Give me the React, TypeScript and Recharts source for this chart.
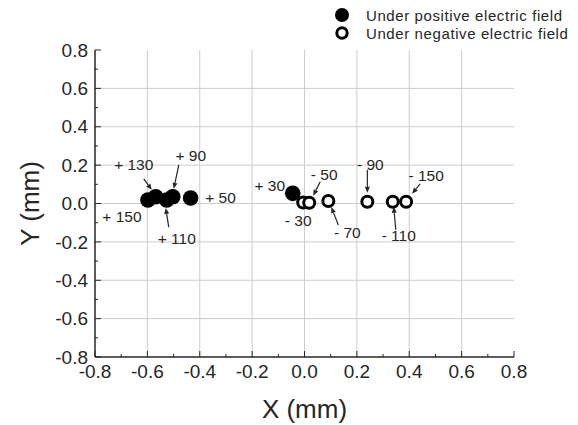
import { ScatterChart, Scatter, XAxis, YAxis, ReferenceLine, Legend, Label } from 'recharts';

const FONT = '"Liberation Sans", Arial, sans-serif';
const INK = '#262626';

// points (mm)
const positiveLabels = ['+ 150', '+ 130', '+ 110', '+ 90', '+ 50', '+ 30'];
const positiveX = [-0.598, -0.568, -0.526, -0.503, -0.435, -0.045];
const positiveY = [0.018, 0.035, 0.018, 0.035, 0.029, 0.053];

const negativeLabels = ['- 30', '- 50', '- 70', '- 90', '- 110', '- 150'];
const negativeX = [-0.005, 0.018, 0.091, 0.24, 0.337, 0.388];
const negativeY = [0.005, 0.004, 0.013, 0.009, 0.009, 0.009];

const seriesNames = ['Under positive electric field', 'Under negative electric field'];

const majorTicks = [-0.8, -0.6, -0.4, -0.2, 0, 0.2, 0.4, 0.6, 0.8];
const minorTicks = [-0.8, -0.7, -0.6, -0.5, -0.4, -0.3, -0.2, -0.1, 0, 0.1, 0.2, 0.3, 0.4, 0.5, 0.6, 0.7, 0.8];

const positiveData = positiveX.map((x, i) => ({ x, y: positiveY[i], label: positiveLabels[i] }));
const negativeData = negativeX.map((x, i) => ({ x, y: negativeY[i], label: negativeLabels[i] }));

// where each callout text sits relative to its point, in px, plus optional arrow
type Callout = { dx: number; dy: number; arrow?: [number, number, number, number] };
const callouts: Record<string, Callout> = {
    '+ 150': { dx: -26, dy: 17 },
    '+ 130': { dx: -22, dy: -32, arrow: [-12, -18, -4, -7] },
    '+ 110': { dx: 10, dy: 39, arrow: [2, 27, -1, 8] },
    '+ 90': { dx: 18, dy: -41, arrow: [6, -32, 1, -8] },
    '+ 50': { dx: 30, dy: 0 },
    '+ 30': { dx: -23, dy: -8 },
    '- 30': { dx: -5, dy: 18 },
    '- 50': { dx: 15, dy: -28, arrow: [11, -21, 4, -7] },
    '- 70': { dx: 19, dy: 32, arrow: [10, 24, 3, 6] },
    '- 90': { dx: 3, dy: -37, arrow: [0, -32, 0, -9] },
    '- 110': { dx: 6, dy: 34, arrow: [3, 28, 1, 5] },
    '- 150': { dx: 20, dy: -26, arrow: [14, -18, 6, -8] },
};

function Arrow({ x1, y1, x2, y2 }: { x1: number; y1: number; x2: number; y2: number }) {
    const a = Math.atan2(y2 - y1, x2 - x1);
    const len = 6;
    const w = 2.5;
    const bx = x2 - len * Math.cos(a);
    const by = y2 - len * Math.sin(a);
    const pts = `${x2},${y2} ${bx - w * Math.sin(a)},${by + w * Math.cos(a)} ${bx + w * Math.sin(a)},${by - w * Math.cos(a)}`;
    return (
        <g>
            <line x1={x1} y1={y1} x2={bx} y2={by} stroke={INK} strokeWidth={1.2} />
            <polygon points={pts} fill={INK} />
        </g>
    );
}

function CalloutText({ cx, cy, label }: { cx: number; cy: number; label: string }) {
    const c = callouts[label];
    if (!c) return null;
    return (
        <g>
            {c.arrow && <Arrow x1={cx + c.arrow[0]} y1={cy + c.arrow[1]} x2={cx + c.arrow[2]} y2={cy + c.arrow[3]} />}
            <text x={cx + c.dx} y={cy + c.dy} dy="0.35em" textAnchor="middle" fontFamily={FONT} fontSize={15.5} fill={INK}>
                {label}
            </text>
        </g>
    );
}

const FilledDot = (props: any) => {
    const { cx, cy, payload } = props;
    return (
        <g>
            <circle cx={cx} cy={cy} r={7.8} fill="#000" />
            <CalloutText cx={cx} cy={cy} label={payload.label} />
        </g>
    );
};

const OpenDot = (props: any) => {
    const { cx, cy, payload } = props;
    return (
        <g>
            <circle cx={cx} cy={cy} r={5.5} fill="#fff" stroke="#000" strokeWidth={3} />
            <CalloutText cx={cx} cy={cy} label={payload.label} />
        </g>
    );
};

const isMajor = (v: number) => Math.abs(Math.round(v * 10)) % 2 === 0;

const BottomTick = (props: any) => {
    const { x, y, payload } = props;
    const v = payload.value;
    const len = isMajor(v) ? 6 : 3;
    return (
        <g>
            <line x1={x} y1={y - 8} x2={x} y2={y - 8 - len} stroke={INK} />
            {isMajor(v) && (
                <text x={x} y={y} dy="0.71em" textAnchor="middle" fontFamily={FONT} fontSize={19} fill={INK}>
                    {v.toFixed(1)}
                </text>
            )}
        </g>
    );
};

const LeftTick = (props: any) => {
    const { x, y, payload } = props;
    const v = payload.value;
    const len = isMajor(v) ? 6 : 3;
    return (
        <g>
            <line x1={x + 7} y1={y} x2={x + 7 + len} y2={y} stroke={INK} />
            {isMajor(v) && (
                <text x={x} y={y} dy="0.355em" textAnchor="end" fontFamily={FONT} fontSize={19} fill={INK}>
                    {v.toFixed(1)}
                </text>
            )}
        </g>
    );
};

const TopTick = (props: any) => {
    const { x, y, payload } = props;
    const len = isMajor(payload.value) ? 6 : 3;
    return <line x1={x} y1={y} x2={x} y2={y + len} stroke={INK} />;
};

const RightTick = (props: any) => {
    const { x, y, payload } = props;
    const len = isMajor(payload.value) ? 6 : 3;
    return <line x1={x} y1={y} x2={x - len} y2={y} stroke={INK} />;
};

const YTitle = (props: any) => {
    const vb = props.viewBox;
    const tx = vb.x + 30;
    const ty = vb.y + vb.height / 2;
    return (
        <text x={tx} y={ty} dy="0.355em" textAnchor="middle" transform={`rotate(-90, ${tx}, ${ty})`} fontFamily={FONT} fontSize={26} fill={INK}>
            Y (mm)
        </text>
    );
};

const renderLegend = () => (
    <div style={{ fontFamily: FONT, fontSize: 15, letterSpacing: 0.6, color: INK }}>
        {seriesNames.map((name, i) => (
            <div key={name} style={{ display: 'flex', alignItems: 'center', height: 18 }}>
                <svg width={33} height={18}>
                    {i === 0 ? (
                        <circle cx={9} cy={9} r={7} fill="#000" />
                    ) : (
                        <circle cx={9} cy={9} r={5.2} fill="#fff" stroke="#000" strokeWidth={3} />
                    )}
                </svg>
                <span>{name}</span>
            </div>
        ))}
    </div>
);

const axisLine = { stroke: INK, strokeWidth: 1.5 };
const gridValues = majorTicks.slice(1, -1);

function App() {
    return (
        <div style={{ position: 'absolute', left: 0, top: 0 }}>
            <ScatterChart width={578} height={425} margin={{ top: 50, right: 64, bottom: 0, left: 0 }}>
                {gridValues.map((v) => (
                    <ReferenceLine key={`gx${v}`} x={v} stroke="#cdcdcd" />
                ))}
                {gridValues.map((v) => (
                    <ReferenceLine key={`gy${v}`} y={v} stroke="#cdcdcd" />
                ))}
                <XAxis
                    type="number"
                    dataKey="x"
                    domain={[-0.8, 0.8]}
                    ticks={minorTicks}
                    interval={0}
                    allowDataOverflow
                    height={68}
                    tickSize={0}
                    tickMargin={8}
                    tickLine={false}
                    tick={BottomTick}
                    axisLine={axisLine}
                >
                    <Label value="X (mm)" position="insideBottom" offset={7} style={{ fontSize: 26, fontFamily: FONT, fill: INK }} />
                </XAxis>
                <XAxis
                    xAxisId="top"
                    orientation="top"
                    type="number"
                    dataKey="x"
                    domain={[-0.8, 0.8]}
                    ticks={minorTicks}
                    interval={0}
                    allowDataOverflow
                    height={0}
                    tickSize={0}
                    tickMargin={0}
                    tickLine={false}
                    tick={TopTick}
                    axisLine={axisLine}
                />
                <YAxis
                    type="number"
                    dataKey="y"
                    domain={[-0.8, 0.8]}
                    ticks={minorTicks}
                    interval={0}
                    allowDataOverflow
                    width={95}
                    tickSize={0}
                    tickMargin={7}
                    tickLine={false}
                    tick={LeftTick}
                    axisLine={axisLine}
                >
                    <Label content={YTitle} />
                </YAxis>
                <YAxis
                    yAxisId="right"
                    orientation="right"
                    type="number"
                    dataKey="y"
                    domain={[-0.8, 0.8]}
                    ticks={minorTicks}
                    interval={0}
                    allowDataOverflow
                    width={0}
                    tickSize={0}
                    tickMargin={0}
                    tickLine={false}
                    tick={RightTick}
                    axisLine={axisLine}
                />
                <Legend
                    layout="horizontal"
                    verticalAlign="middle"
                    align="center"
                    content={renderLegend}
                    wrapperStyle={{ left: 333, top: 6, width: 245 }}
                />
                <Scatter name={seriesNames[0]} data={positiveData} shape={FilledDot} isAnimationActive={false} />
                <Scatter name={seriesNames[1]} data={negativeData} shape={OpenDot} isAnimationActive={false} />
            </ScatterChart>
        </div>
    );
}

export default App;
